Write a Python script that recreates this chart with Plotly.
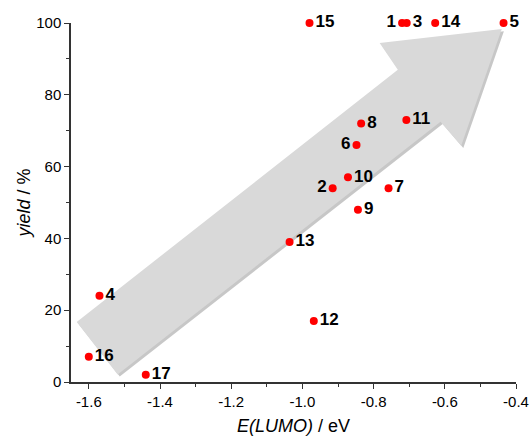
import plotly.graph_objects as go

# data
compound = ["1", "2", "3", "4", "5", "6", "7", "8", "9", "10", "11", "12", "13", "14", "15", "16", "17"]
e_lumo = [-0.72, -0.915, -0.707, -1.57, -0.435, -0.848, -0.758, -0.835, -0.844, -0.872, -0.708, -0.968, -1.036, -0.627, -0.98, -1.60, -1.44]
yield_pct = [100, 54, 100, 24, 100, 66, 54, 72, 48, 57, 73, 17, 39, 100, 100, 7, 2]
label_pos = ["middle left", "middle left", "middle right", "middle right", "middle right", "middle left",
             "middle right", "middle right", "middle right", "middle right", "middle right", "middle right",
             "middle right", "middle right", "middle right", "middle right", "middle right"]

x_ticks = [-1.6, -1.4, -1.2, -1.0, -0.8, -0.6, -0.4]
x_ticklabels = ["-1.6", "-1.4", "-1.2", "-1.0", "-0.8", "-0.6", "-0.4"]
y_ticks = [0, 20, 40, 60, 80, 100]

# decorative trend arrow (data coordinates)
arrow_x = [-1.634, -0.732, -0.783, -0.440, -0.554, -0.612, -1.519]
arrow_y = [16.7, 87.0, 94.4, 98.3, 65.8, 72.5, 2.1]


def poly_path(xs, ys, dx=0.0, dy=0.0):
    pts = [f"{x + dx},{y + dy}" for x, y in zip(xs, ys)]
    return "M " + " L ".join(pts) + " Z"


FONT = "Liberation Sans, Arial, sans-serif"

fig = go.Figure()
fig.add_trace(go.Scatter(
    x=e_lumo, y=yield_pct, mode="markers+text",
    text=compound, textposition=label_pos,
    textfont=dict(family=FONT, size=17, color="black", weight="bold"),
    marker=dict(color="#ff0000", size=8),
    cliponaxis=False, showlegend=False,
))

fig.add_shape(type="path", path=poly_path(arrow_x, arrow_y, 0.006, -0.6),
              fillcolor="rgba(0,0,0,0.22)", line=dict(width=0), layer="below")
fig.add_shape(type="path", path=poly_path(arrow_x, arrow_y),
              fillcolor="#d9d9d9", line=dict(width=0), layer="below")

axis_common = dict(
    showgrid=False, zeroline=False, showline=True, linecolor="#333333", linewidth=1.5,
    ticks="outside", ticklen=5, tickwidth=1.2, tickcolor="#333333",
    tickfont=dict(family=FONT, size=15, color="black"),
    automargin=False,
)

fig.update_xaxes(
    range=[-1.65, -0.4], tickvals=x_ticks, ticktext=x_ticklabels,
    minor=dict(ticks="outside", ticklen=3, tickwidth=1.2, tickcolor="#333333", dtick=0.1, tick0=-1.6),
    title=dict(text="<i>E(LUMO)</i> / eV", font=dict(family=FONT, size=18, color="black"), standoff=14),
    **axis_common,
)
fig.update_yaxes(
    range=[0, 100], tickvals=y_ticks,
    minor=dict(ticks="outside", ticklen=3, tickwidth=1.2, tickcolor="#333333", dtick=10, tick0=0),
    title=dict(text="<i>yield</i> / %", font=dict(family=FONT, size=18, color="black"), standoff=1),
    **axis_common,
)

fig.update_layout(
    width=531, height=436,
    margin=dict(l=71, r=15, t=23, b=54),
    plot_bgcolor="white", paper_bgcolor="white",
    hovermode=False,
)

fig.write_html(
    "out.html",
    config={"displayModeBar": False},
    post_script="document.body.style.margin='0';document.body.style.overflow='hidden';",
)
